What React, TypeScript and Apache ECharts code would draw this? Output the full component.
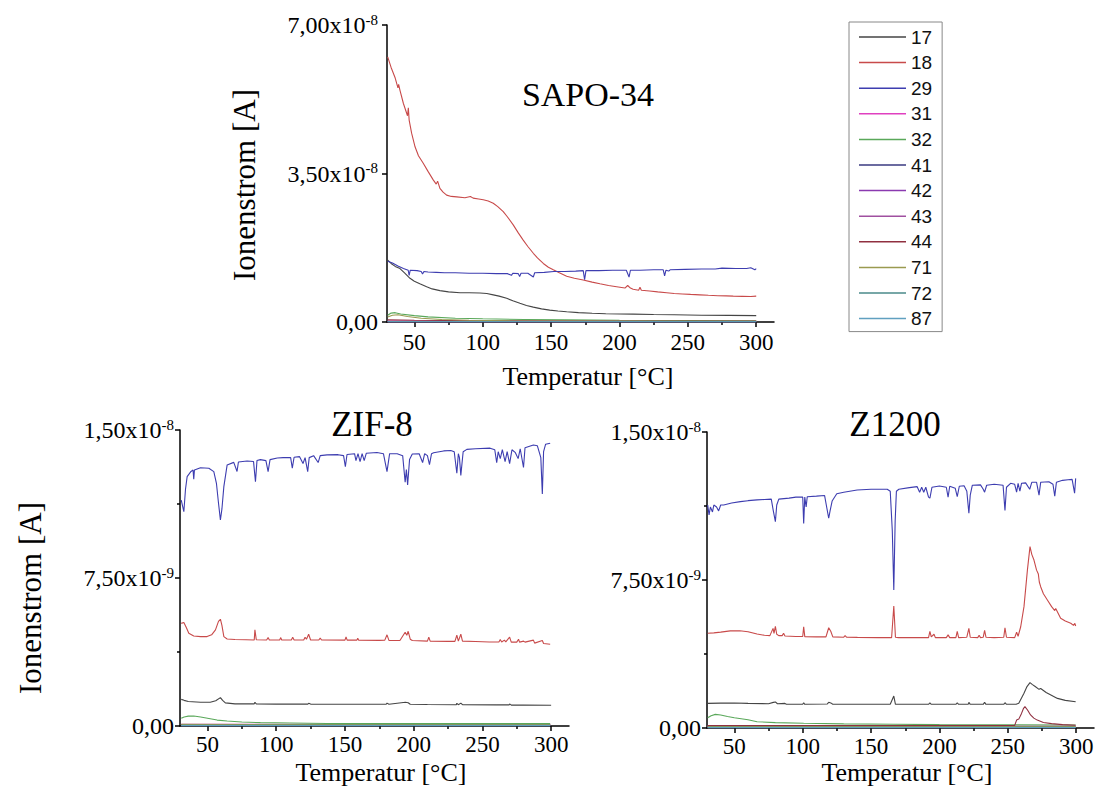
import React, { useEffect, useRef } from 'react';
import * as echarts from 'echarts';

// ---------- names, colours, ticks ----------
const seriesNames = ['17', '18', '29', '31', '32', '41', '42', '43', '44', '71', '72', '87'];
const seriesColors = ['#454545', '#c84a4a', '#3d3db0', '#e040c0', '#5aa85a', '#3a3a80', '#8a3ab0', '#a050a0', '#903040', '#9a9a50', '#4a8a8a', '#60a0c0'];

const xTickValues = [50, 100, 150, 200, 250, 300];
const xMinorTickValues = [75, 125, 175, 225, 275];

const topYTickValues = [0, 35, 70];
const topYTickText = ['0,00', '3,50x10', '7,00x10'];
const topYTickExp = ['', '-8', '-8'];

const botYTickValues = [0, 7.5, 15];
const botYTickText = ['0,00', '7,50x10', '1,50x10'];
const botYTickExp = ['', '-9', '-8'];

// ---------- SAPO-34 (values in 1e-9 A) ----------
const sapo17 = [[30.5,14.6],[33,13.8],[36,13.1],[39.5,12.6],[43,11.5],[46.8,10.3],[50,9.6],[54,9.0],[59,8.3],[63,7.8],[68.7,7.4],[75,7.1],[83.4,6.9],[90,6.9],[98,6.85],[103,6.7],[107.7,6.4],[112,6.1],[117.5,5.6],[122,5.0],[127.2,4.4],[132,3.9],[137,3.5],[143,3.1],[149,2.8],[155,2.6],[161.4,2.4],[170,2.2],[180,2.05],[190,1.95],[200,1.9],[210,1.85],[225,1.75],[240,1.7],[260,1.6],[280,1.55],[300,1.5]];
const sapo18 = [[30.5,62.5],[33,60],[36,57.5],[38,55.2],[38.5,56],[39.5,54.6],[42,51.5],[45,48.6],[45.6,50.5],[46.2,47.6],[48,44.5],[50.5,41.3],[53,39.2],[56.5,37.4],[60,35.5],[63.8,33.5],[66,32.5],[67,33.2],[68.7,31.5],[71,30.6],[73.6,29.9],[77,29.6],[81,29.5],[87,29.3],[91,29.6],[93,29.2],[97,29.0],[100.4,28.8],[104,28.5],[107.7,28.0],[111,27.2],[115,26.0],[118,24.8],[122.3,22.9],[126,21.0],[129.6,19.3],[133,17.8],[137,16.2],[140,15.1],[144.3,13.8],[148,12.9],[151.6,12.3],[156,11.6],[161.4,10.8],[167,10.3],[173.5,9.9],[180,9.4],[185.7,9.0],[192,8.6],[197.9,8.3],[204,8.0],[206,8.6],[208,8.0],[210,7.7],[214,7.5],[215,8.2],[216,7.5],[222,7.3],[228,7.1],[234.5,6.9],[240,6.7],[246,6.6],[252,6.5],[258.8,6.4],[265,6.3],[272,6.2],[278,6.15],[283.2,6.1],[290,6.05],[296,6.0],[300,6.1]];
const sapo29 = [[30.5,14.3],[34,13.9],[38,13.2],[42,12.6],[45.5,12.2],[46.2,11.0],[47,12.2],[52,12.1],[55,11.9],[56,11.3],[57,11.9],[60,11.8],[66,11.7],[72,11.6],[80,11.6],[90,11.5],[100,11.5],[110,11.4],[118,11.4],[121,11.0],[122,11.5],[126,11.4],[127,10.7],[128,11.5],[133,11.5],[137,10.6],[138,11.6],[145,11.7],[152,11.9],[160,11.9],[168,12.0],[173.5,12.1],[174.5,10.0],[175.5,12.1],[185,12.1],[195,12.2],[205,12.2],[207,10.6],[208,12.2],[215,12.2],[225,12.3],[232,12.3],[233,10.9],[234,12.2],[236,12.0],[237,12.3],[248,12.4],[260,12.5],[270,12.5],[275,12.7],[285,12.6],[293,12.6],[296,12.8],[299,12.3],[300,12.6]];
const sapo31 = [[30.5,0.25],[100,0.2],[200,0.18],[300,0.18]];
const sapo32 = [[30.5,1.6],[33,2.1],[36,2.2],[40,1.9],[50,1.5],[60,1.2],[80,0.9],[100,0.75],[130,0.6],[160,0.5],[200,0.42],[250,0.35],[300,0.3]];
const sapo41 = [[30.5,0.05],[150,0.05],[300,0.05]];
const sapo42 = [[30.5,0.08],[150,0.07],[300,0.07]];
const sapo43 = [[30.5,0.1],[150,0.09],[300,0.09]];
const sapo44 = [[30.5,0.5],[50,0.4],[100,0.3],[200,0.25],[300,0.2]];
const sapo71 = [[30.5,1.2],[34,1.6],[38,1.7],[45,1.3],[55,0.9],[70,0.6],[90,0.4],[120,0.3],[170,0.22],[230,0.18],[300,0.15]];
const sapo72 = [[30.5,0.12],[150,0.11],[300,0.1]];
const sapo87 = [[30.5,0.06],[150,0.05],[300,0.05]];

// ---------- ZIF-8 ----------
const zif17 = [[30.9,1.35],[33,1.3],[36,1.24],[45,1.2],[52,1.2],[56,1.28],[59.4,1.44],[61,1.3],[63,1.17],[70,1.12],[84,1.12],[84.5,1.2],[85.5,1.12],[100,1.11],[123,1.11],[123.6,1.15],[125,1.11],[150,1.1],[180,1.1],[180.6,1.16],[182,1.1],[194,1.2],[196,1.18],[197.5,1.1],[210,1.09],[231,1.08],[231.4,1.15],[232.5,1.08],[234.3,1.16],[235.5,1.08],[260,1.07],[269.5,1.07],[269.8,1.12],[271,1.06],[280,1.06],[300,1.05]];
const zif18 = [[30.9,5.2],[32.8,5.25],[34.5,5.0],[36.4,4.7],[40,4.56],[45,4.53],[49.7,4.53],[53,4.62],[55.8,4.87],[58,5.3],[59.4,5.41],[60.5,5.1],[61.9,4.53],[64.3,4.41],[70,4.38],[78,4.37],[84,4.36],[84.5,4.87],[85.5,4.37],[93,4.36],[94.1,4.48],[95,4.36],[102.5,4.36],[103.3,4.48],[104,4.36],[111,4.36],[112,4.5],[113,4.36],[120,4.36],[121,4.5],[122,4.4],[123.6,4.65],[125,4.36],[131,4.36],[132,4.45],[133,4.36],[150,4.35],[150.8,4.52],[151.6,4.35],[158.7,4.35],[159.3,4.45],[160,4.35],[175,4.34],[179,4.35],[180.6,4.62],[182,4.34],[190,4.33],[193.8,4.75],[195,4.6],[196,4.8],[197.5,4.4],[199,4.33],[210,4.3],[211,4.5],[212,4.3],[225,4.29],[230,4.29],[231.4,4.6],[232.5,4.3],[234.3,4.65],[235.5,4.3],[245,4.28],[255,4.26],[262,4.26],[263,4.38],[264,4.26],[266,4.35],[267,4.26],[269.8,4.5],[271,4.25],[275,4.25],[276.3,4.4],[277,4.25],[280,4.3],[281,4.25],[287.1,4.35],[288,4.2],[293.6,4.33],[294.5,4.18],[299.3,4.14]];
const zif29 = [[30.9,11.45],[32.8,10.86],[34,12.0],[35.2,12.64],[38,12.9],[39.5,12.97],[40,12.5],[40.5,12.97],[44.9,13.09],[51,13.06],[54.6,12.89],[56.5,12.3],[58,11.3],[59.4,10.44],[60.5,11.0],[61.9,12.13],[64.3,13.23],[69.1,13.36],[71.5,12.9],[72.5,13.38],[78.8,13.43],[83.5,13.4],[84.9,12.38],[86,13.45],[88.5,13.5],[92.5,13.45],[94.1,12.89],[95.5,13.5],[100.8,13.58],[105,13.6],[110.5,13.6],[111.7,13.07],[113,13.62],[117,13.65],[119.5,13.3],[121,13.6],[122.9,12.89],[124,13.6],[127.2,13.7],[130.5,13.35],[132,13.7],[137,13.74],[145,13.75],[149,13.7],[150.3,13.14],[151.5,13.76],[157,13.8],[158,13.45],[159.5,13.8],[161,13.4],[162.5,13.8],[164,13.45],[165.5,13.82],[173.3,13.86],[178,13.8],[180.6,12.89],[182.5,13.8],[188,13.8],[192,13.7],[193.8,12.35],[194.7,13.0],[195.6,12.22],[197,13.5],[199,13.78],[204,13.8],[206.5,13.35],[208,13.8],[210,13.7],[211.5,13.25],[213,13.8],[214.5,13.85],[221.8,13.94],[227,13.96],[229.5,13.9],[231.4,12.81],[232.5,13.8],[233.3,13.6],[234.3,12.7],[236,13.9],[238.7,14.02],[245,14.05],[255.6,14.08],[259,14.0],[260.4,13.35],[261.5,13.9],[263,13.55],[264.5,14.0],[266.5,13.4],[268,13.9],[269.8,13.3],[271.5,14.0],[274,13.85],[276,13.55],[277.5,14.05],[279.9,13.1],[281,14.1],[287.1,14.24],[290,14.2],[292.5,13.6],[293.6,11.76],[294.5,13.9],[296,14.28],[299.3,14.33]];
const zif31 = [[30.9,0.09],[150,0.08],[299.3,0.08]];
const zif32 = [[30.9,0.39],[33,0.46],[36,0.5],[40,0.51],[45,0.46],[51,0.38],[57,0.3],[64.3,0.25],[75,0.2],[88.5,0.17],[110,0.15],[137,0.13],[180,0.12],[240,0.12],[299.3,0.12]];
const zif41 = [[30.9,0.02],[150,0.02],[299.3,0.02]];
const zif42 = [[30.9,0.04],[150,0.04],[299.3,0.04]];
const zif43 = [[30.9,0.05],[150,0.05],[299.3,0.05]];
const zif44 = [[30.9,0.07],[150,0.06],[299.3,0.06]];
const zif71 = [[30.9,0.08],[150,0.07],[299.3,0.07]];
const zif72 = [[30.9,0.03],[150,0.03],[299.3,0.03]];
const zif87 = [[30.9,0.02],[150,0.02],[299.3,0.02]];

// ---------- Z1200 ----------
const z17 = [[30.5,1.25],[40,1.26],[50,1.27],[60,1.25],[75,1.23],[78.5,1.3],[80,1.32],[81.5,1.23],[87,1.25],[88,1.2],[100,1.2],[100.7,1.28],[101.5,1.2],[118,1.22],[119,1.3],[121,1.25],[122,1.2],[140,1.2],[164,1.2],[166.6,1.62],[167.8,1.2],[180,1.2],[192,1.2],[193,1.27],[194,1.2],[212,1.2],[213,1.27],[214,1.2],[221,1.2],[221.5,1.3],[222.5,1.2],[232,1.2],[233,1.3],[234,1.2],[247,1.2],[247.9,1.28],[249,1.2],[256,1.2],[258,1.25],[261.8,1.76],[264,2.1],[266.2,2.3],[268,2.2],[270,2.1],[272.8,1.96],[274,2.0],[278,1.8],[286.3,1.5],[292,1.4],[299.6,1.33]];
const z18 = [[30.5,4.8],[35,4.82],[40,4.86],[47,4.92],[54,4.93],[60,4.88],[66.6,4.76],[72,4.7],[76,4.68],[78.3,5.05],[79,4.8],[80,5.15],[81,4.75],[82.5,4.68],[85,4.68],[86,4.8],[87,4.66],[95,4.64],[100,4.64],[100.7,5.13],[101.5,4.63],[110,4.62],[117,4.62],[119,5.08],[120.5,4.9],[122,4.62],[130,4.6],[131,4.68],[132,4.6],[140,4.59],[155,4.58],[165,4.58],[166.6,6.18],[167.8,4.6],[170,4.58],[180,4.58],[192,4.58],[193,4.9],[194,4.62],[196,4.75],[197,4.58],[205,4.58],[206.3,4.72],[207.5,4.58],[212,4.58],[213,4.9],[214,4.58],[220,4.6],[221.5,5.05],[222.5,4.6],[228,4.58],[229,4.7],[230,4.58],[232,4.6],[233,4.95],[234,4.6],[240,4.58],[247,4.6],[247.9,5.08],[249,4.6],[255,4.58],[256.4,4.85],[257.5,4.65],[259.4,5.13],[261.8,6.15],[264.3,8.0],[266.2,9.19],[267.5,8.8],[269.1,8.51],[271,8.0],[272.3,7.8],[273,7.4],[274,7.16],[276,6.8],[278.9,6.49],[282,6.15],[284.3,5.95],[285,6.05],[288.6,5.56],[292,5.42],[296,5.31],[298,5.2],[299,5.3],[299.6,5.17]];
const z29 = [[30.5,11.3],[31.5,10.8],[32.5,11.2],[34,10.95],[35,11.3],[37,11.2],[38.5,11.0],[40,11.3],[42.2,11.3],[48,11.4],[54.4,11.47],[60,11.52],[66.6,11.56],[72,11.58],[77,11.6],[78.5,11.0],[80,10.46],[81,11.3],[82.5,11.6],[90,11.65],[95,11.7],[100,11.7],[100.7,10.37],[101.5,11.7],[102.5,11.2],[103.3,11.72],[110,11.75],[116,11.78],[117.5,11.2],[119,10.63],[120,11.0],[121.5,11.5],[124.9,11.87],[130,11.95],[139.8,12.06],[150,12.1],[161.8,12.1],[164,12.0],[165.5,10.0],[166.6,6.99],[167.6,10.5],[168.5,12.0],[170.3,12.1],[178,12.18],[183.7,12.23],[185.5,11.95],[187,12.2],[188.5,11.95],[190,12.2],[192,11.7],[193,11.65],[194.5,12.2],[200,12.26],[205,12.2],[206.3,11.7],[207.5,12.25],[211.5,12.15],[213,11.72],[214.5,12.25],[218,12.28],[220,12.0],[221.5,10.88],[222.5,11.8],[224,12.3],[230,12.32],[232,12.1],[233,11.95],[234.5,12.3],[240,12.35],[246.5,12.3],[247.9,11.02],[249,12.2],[252,12.4],[255,12.35],[256.4,11.95],[257.5,12.4],[258.8,12.0],[260,12.4],[263,12.42],[266,12.1],[267.5,12.45],[271,12.45],[272.8,11.8],[274,12.45],[280,12.48],[283,12.35],[284.3,11.75],[285.5,12.45],[290,12.55],[294,12.58],[297,12.6],[298.8,11.9],[299.6,12.65]];
const z31 = [[30.5,0.1],[150,0.1],[299.6,0.1]];
const z32 = [[30.5,0.52],[33,0.62],[36.1,0.69],[40,0.66],[45,0.58],[50,0.52],[60,0.42],[66.6,0.32],[80,0.27],[100.7,0.24],[130,0.21],[166.6,0.19],[200,0.17],[250,0.16],[299.6,0.15]];
const z41 = [[30.5,0.02],[255,0.02],[262,0.06],[268,0.05],[275,0.02],[299.6,0.02]];
const z42 = [[30.5,0.04],[150,0.04],[299.6,0.04]];
const z43 = [[30.5,0.05],[150,0.05],[299.6,0.05]];
const z44 = [[30.5,0.12],[100,0.12],[200,0.12],[255,0.13],[256.4,0.4],[258,0.45],[260,0.74],[261.5,1.0],[262.5,1.08],[264.5,0.9],[266.6,0.66],[269,0.5],[271.5,0.4],[276,0.28],[282,0.22],[290,0.17],[299.6,0.14]];
const z71 = [[30.5,0.07],[150,0.07],[299.6,0.07]];
const z72 = [[30.5,0.03],[150,0.03],[299.6,0.03]];
const z87 = [[30.5,0.02],[150,0.02],[299.6,0.02]];

const sapoData = [sapo17, sapo18, sapo29, sapo31, sapo32, sapo41, sapo42, sapo43, sapo44, sapo71, sapo72, sapo87];
const zifData = [zif17, zif18, zif29, zif31, zif32, zif41, zif42, zif43, zif44, zif71, zif72, zif87];
const zData = [z17, z18, z29, z31, z32, z41, z42, z43, z44, z71, z72, z87];

const SERIF = '"Liberation Serif", "Times New Roman", serif';
const SANS = '"Liberation Sans", Arial, sans-serif';

function makeSeries(data: number[][][], gridIdx: number) {
  return seriesNames.map((n, i) => ({
    type: 'line',
    name: n,
    xAxisIndex: gridIdx * 2,
    yAxisIndex: gridIdx,
    data: data[i],
    showSymbol: false,
    symbol: 'none',
    z: i < 3 ? 5 : 3,
    lineStyle: { width: 1.1, color: seriesColors[i] },
    itemStyle: { color: seriesColors[i] },
  }));
}

function makeXAxes(gridIndex: number, margin: number) {
  const line = { color: '#000', width: 1.5 };
  return [
    {
      type: 'value', gridIndex, min: 30, max: 313, position: 'bottom',
      axisLine: { show: true, onZero: false, lineStyle: line },
      axisTick: { show: true, length: 5, customValues: xTickValues, lineStyle: line },
      axisLabel: { customValues: xTickValues, fontSize: 23, fontFamily: SERIF, color: '#000', margin },
      splitLine: { show: false },
    },
    {
      type: 'value', gridIndex, min: 30, max: 313, position: 'bottom',
      axisLine: { show: false, onZero: false },
      axisTick: { show: true, length: 3, customValues: xMinorTickValues, lineStyle: line },
      axisLabel: { show: false },
      splitLine: { show: false },
    },
  ];
}

function makeYAxis(gridIndex: number, max: number, interval: number, vals: number[], txt: string[], exp: string[], minor: boolean, margin: number) {
  const line = { color: '#000', width: 1.5 };
  return {
    type: 'value', gridIndex, min: 0, max, interval,
    axisLine: { show: true, onZero: false, lineStyle: line },
    axisTick: { show: true, length: 5, lineStyle: line },
    minorTick: { show: minor, splitNumber: 2, length: 3, lineStyle: line },
    splitLine: { show: false },
    minorSplitLine: { show: false },
    axisLabel: {
      margin,
      formatter: (v: number) => {
        const i = vals.findIndex((t) => Math.abs(t - v) < 1e-6);
        if (i < 0) return '';
        return exp[i] ? `{m|${txt[i]}}{s|${exp[i]}}` : `{m|${txt[i]}}`;
      },
      rich: {
        m: { fontSize: 24, fontFamily: SERIF, color: '#000', lineHeight: 26 },
        s: { fontSize: 15, fontFamily: SERIF, color: '#000', lineHeight: 15, verticalAlign: 'top' },
      },
    },
  };
}

function txt(text: string, x: number, y: number, size: number, rot = 0) {
  return {
    type: 'text', x, y, rotation: rot,
    style: { text, fontSize: size, fontFamily: SERIF, fill: '#000', align: 'center', verticalAlign: 'middle' },
  };
}

export default function App() {
  const ref = useRef<HTMLDivElement>(null);
  useEffect(() => {
    if (!ref.current) return;
    const chart = echarts.init(ref.current, undefined, { renderer: 'svg' });
    chart.setOption({
      animation: false,
      backgroundColor: '#fff',
      grid: [
        { left: 387, top: 25, width: 387, height: 297 },
        { left: 180, top: 430, width: 389, height: 296 },
        { left: 707, top: 432, width: 387, height: 296 },
      ],
      xAxis: [...makeXAxes(0, 9), ...makeXAxes(1, 7), ...makeXAxes(2, 7)],
      yAxis: [
        makeYAxis(0, 70, 35, topYTickValues, topYTickText, topYTickExp, false, 9),
        makeYAxis(1, 15, 7.5, botYTickValues, botYTickText, botYTickExp, true, 6),
        makeYAxis(2, 15, 7.5, botYTickValues, botYTickText, botYTickExp, true, 6),
      ],
      legend: {
        data: seriesNames,
        orient: 'vertical',
        left: 849,
        top: 22,
        padding: [5, 10, 3, 10],
        itemGap: 5.6,
        itemWidth: 47,
        itemHeight: 1.5,
        icon: 'rect',
        borderColor: '#888',
        borderWidth: 1,
        selectedMode: false,
        textStyle: { fontSize: 19, fontFamily: SANS, color: '#111', lineHeight: 20 },
      },
      graphic: [
        txt('SAPO-34', 588, 94, 34),
        txt('ZIF-8', 372, 424, 35),
        txt('Z1200', 895, 424, 35),
        txt('Ionenstrom [A]', 244, 185, 31, Math.PI / 2),
        txt('Ionenstrom [A]', 30, 598, 31, Math.PI / 2),
        txt('Temperatur [°C]', 588, 376, 26),
        txt('Temperatur [°C]', 381, 772, 26),
        txt('Temperatur [°C]', 907, 772, 26),
      ],
      series: [...makeSeries(sapoData, 0), ...makeSeries(zifData, 1), ...makeSeries(zData, 2)],
    });
    return () => chart.dispose();
  }, []);
  return <div ref={ref} style={{ position: 'fixed', left: 0, top: 0, width: 1099, height: 792 }} />;
}
